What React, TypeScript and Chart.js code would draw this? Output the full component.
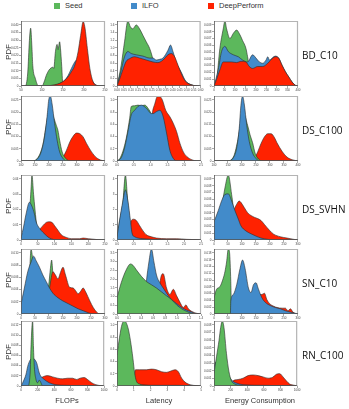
import React, { useEffect, useRef } from 'react';
import { Chart, registerables } from 'chart.js';
Chart.register(...registerables);

type P = [number, number][];

const SERIES_NAMES = ['Seed', 'ILFO', 'DeepPerform'];
const SERIES_COLORS = ['#5cb85c', '#428bca', '#ff2200'];
const ROW_NAMES = ['BD_C10', 'DS_C100', 'DS_SVHN', 'SN_C10', 'RN_C100'];
const COL_NAMES = ['FLOPs', 'Latency', 'Energy Consumption'];

// x / y values are in percent of each panel's axis range
const BD_FLOPS_SEED: P = [[0,0],[5,0],[8,20],[10,70],[11.5,89],[13,60],[14,32],[17,12],[21,0],[25,0],[28,8],[30,16],[33,24],[36,28],[38,29],[39,27],[41,53],[43,64],[44,56],[46,68],[47,58],[48.5,30],[50,0],[100,0]];
const BD_FLOPS_ILFO: P = [[0,0],[30,0],[40,1],[46,4],[52,9],[56,16],[60,27],[64,37],[68,42],[72,45],[76,40],[80,25],[84,10],[90,1],[95,0],[100,0]];
const BD_FLOPS_DP: P = [[0,0],[29,0],[40,2],[46,4],[54,11],[60,22],[64,32],[68,53],[71,78],[74,99],[76,91],[79,58],[82,27],[86,6],[90,1],[95,0],[100,0]];

const BD_LAT_SEED: P = [[0,0],[5,32],[9,68],[13,100],[16,91],[19,88],[23,94],[27,88],[31,78],[35,68],[39,58],[42,46],[45,30],[47,22],[55,20],[65,16],[75,10],[85,4],[95,0],[100,0]];
const BD_LAT_ILFO: P = [[0,0],[5,24],[9,45],[13,53],[17,50],[23,48],[31,46],[39,43],[43,43],[47,40],[51,41],[55,43],[61,55],[64,63],[67,53],[71,36],[77,21],[81,10],[85,4],[91,1],[97,0],[100,0]];
const BD_LAT_DP: P = [[0,0],[3,10],[7,25],[11,38],[15,42],[21,45],[27,43],[35,40],[43,37],[49,36],[55,40],[61,48],[65,50],[69,45],[73,32],[77,19],[81,9],[85,4],[91,1],[97,0],[100,0]];

const BD_EN_SEED: P = [[0,0],[3,8],[7,58],[11,88],[13,100],[15,88],[19,73],[23,81],[27,86],[30,81],[34,70],[38,58],[40,45],[42,30],[46,20],[55,15],[70,8],[85,3],[100,0]];
const BD_EN_ILFO: P = [[0,0],[5,25],[9,53],[13,61],[17,53],[23,48],[29,45],[34,40],[40,37],[46,48],[50,43],[54,37],[58,35],[62,40],[64,45],[66,40],[70,44],[73,46],[77,43],[81,32],[85,22],[89,14],[93,6],[97,1],[100,0]];
const BD_EN_DP: P = [[0,0],[3,10],[7,25],[11,37],[15,37],[21,37],[27,36],[32,38],[38,37],[42,30],[46,27],[52,30],[58,30],[64,35],[70,43],[73,45],[77,43],[81,32],[85,22],[89,14],[93,6],[97,1],[100,0]];

const DS100_FLOPS_SEED: P = [[0,0],[12,0],[20,5],[26,25],[30,55],[34,80],[38,70],[42,55],[44,47],[46,32],[49,14],[54,3],[58,0],[100,0]];
const DS100_FLOPS_ILFO: P = [[0,0],[14,0],[20,4],[24,14],[28,37],[31,68],[33,94],[35,100],[37,88],[40,58],[43,32],[46,14],[50,4],[54,0],[100,0]];
const DS100_FLOPS_DP: P = [[0,0],[46,0],[50,6],[54,16],[58,29],[62,38],[66,43],[70,42],[74,37],[78,27],[84,14],[90,5],[96,1],[100,0]];

const DS100_LAT_SEED: P = [[0,0],[3,3],[7,15],[11,35],[15,65],[17,84],[21,85],[25,86],[29,85],[33,86],[37,81],[41,71],[45,50],[50,30],[55,15],[60,5],[66,0],[100,0]];
const DS100_LAT_ILFO: P = [[0,0],[5,5],[9,20],[13,45],[17,71],[21,78],[25,84],[29,86],[35,81],[41,73],[43,73],[47,76],[51,78],[55,68],[59,43],[63,16],[67,4],[71,0],[100,0]];
const DS100_LAT_DP: P = [[0,0],[30,0],[38,20],[42,73],[45,88],[48,99],[51,99],[54,94],[58,78],[63,68],[67,58],[71,45],[75,27],[79,14],[83,7],[89,2],[95,0],[100,0]];

const DS100_EN_SEED: P = [[0,0],[15,0],[23,6],[28,30],[32,60],[36,70],[40,55],[43,40],[46,28],[49,12],[53,3],[58,0],[100,0]];
const DS100_EN_ILFO: P = [[0,0],[17,0],[23,5],[27,20],[30,50],[32,85],[34,100],[36,88],[39,55],[42,30],[46,12],[50,4],[54,0],[100,0]];
const DS100_EN_DP: P = [[0,0],[44,0],[48,4],[52,14],[56,27],[60,37],[64,42],[68,42],[72,36],[75,28],[81,15],[87,6],[93,2],[100,0]];

const DSS_FLOPS_SEED: P = [[0,0],[6,10],[10,40],[12,80],[13,100],[15,70],[18,30],[20,10],[24,2],[28,0],[100,0]];
const DSS_FLOPS_ILFO: P = [[0,3],[3,20],[6,40],[10,58],[13,52],[16,40],[18,28],[22,18],[26,12],[30,7],[34,3],[38,1],[44,0],[100,0]];
const DSS_FLOPS_DP: P = [[0,0],[16,0],[20,8],[22,15],[26,22],[30,27],[33,28],[37,27],[40,22],[44,15],[48,8],[54,4],[60,2],[70,2],[74,3],[80,2],[88,1],[96,0],[100,0]];

const DSS_LAT_SEED: P = [[0,3],[3,28],[7,58],[10,100],[13,55],[16,20],[19,5],[23,0],[100,0]];
const DSS_LAT_ILFO: P = [[0,5],[3,30],[7,60],[10,77],[13,60],[16,30],[18,10],[21,5],[25,3],[31,2],[43,1],[60,0],[100,0]];
const DSS_LAT_DP: P = [[0,0],[14,0],[17,30],[20,32],[23,30],[27,22],[31,14],[35,8],[41,5],[47,3],[59,2],[71,2],[83,1],[95,0.5],[100,0]];

const DSS_EN_SEED: P = [[0,0],[5,25],[9,50],[13,80],[17,100],[21,70],[24,40],[27,15],[30,3],[34,0],[100,0]];
const DSS_EN_ILFO: P = [[0,28],[5,45],[9,60],[13,70],[17,71],[21,60],[25,45],[29,32],[32,22],[38,14],[45,9],[50,6],[56,3],[64,1],[72,0],[100,0]];
const DSS_EN_DP: P = [[0,0],[13,0],[17,10],[21,35],[25,50],[27,55],[30,60],[32,58],[36,50],[40,42],[45,37],[48,35],[52,33],[56,30],[60,24],[66,15],[71,9],[79,5],[87,3],[95,1],[100,0]];

const SN_FLOPS_SEED: P = [[0,0],[6,0],[10,60],[12,100],[14,85],[17,70],[20,40],[24,28],[28,25],[33,45],[35,70],[36.5,83],[38,62],[40,50],[44,25],[50,5],[56,0],[100,0]];
const SN_FLOPS_ILFO: P = [[0,15],[4,40],[8,65],[12,80],[15,89],[18,82],[22,72],[26,60],[30,50],[34,40],[38,32],[44,25],[50,20],[56,16],[62,12],[68,8],[74,5],[80,2],[86,0],[100,0]];
const SN_FLOPS_DP: P = [[0,0],[26,0],[30,10],[34,40],[38,65],[41,60],[44,54],[47,64],[50,72],[53,60],[58,41],[62,40],[66,34],[68,31],[71,35],[74,40],[77,34],[82,20],[86,10],[90,3],[94,0],[100,0]];

const SN_LAT_SEED: P = [[0,25],[5,48],[11,68],[16,77],[19,75],[23,68],[29,58],[35,50],[41,45],[47,40],[53,34],[59,28],[65,22],[71,14],[77,8],[83,4],[89,1],[94,0],[100,0]];
const SN_LAT_ILFO: P = [[0,0],[31,0],[33,20],[35,50],[38,80],[41,100],[44,80],[47,60],[51,48],[55,40],[59,32],[63,25],[67,20],[71,16],[77,10],[83,6],[89,3],[95,0],[100,0]];
const SN_LAT_DP: P = [[0,0],[44,0],[50,40],[53,60],[55,62],[59,40],[63,30],[67,38],[71,28],[75,18],[79,10],[82,14],[85,8],[89,4],[95,1],[100,0]];

const SN_EN_SEED: P = [[0,25],[3,38],[7,42],[11,55],[13,65],[15,80],[17,100],[18.5,95],[20,50],[21,0],[100,0]];
const SN_EN_ILFO: P = [[0,0],[19.5,0],[20,20],[23,30],[27,45],[31,70],[34,83],[37,70],[41,40],[44,33],[47,45],[50,48],[53,38],[57,25],[61,18],[67,13],[73,10],[79,8],[85,5],[91,3],[97,1],[100,0]];
const SN_EN_DP: P = [[0,0],[40,0],[50,20],[54,30],[57,30],[60,32],[63,22],[67,15],[71,12],[75,10],[81,9],[85,9],[88,5],[91,8],[94,3],[99,0],[100,0]];

const RN_FLOPS_SEED: P = [[0,0],[8,0],[11,20],[12,60],[14,100],[15,60],[16,30],[18,10],[20,5],[22,9],[24,5],[26,0],[100,0]];
const RN_FLOPS_ILFO: P = [[0,0],[2,5],[6,18],[8,30],[11,40],[14,43],[17,40],[19,35],[22,20],[24,15],[28,10],[34,5],[42,2],[54,1],[74,0.5],[100,0]];
const RN_FLOPS_DP: P = [[0,0],[18,0],[22,8],[24,12],[28,15],[32,16],[38,14],[44,12],[50,11],[56,12],[62,12],[67,10],[71,12],[76,13],[80,10],[85,5],[90,2],[96,0.5],[100,0]];

const RN_LAT_SEED: P = [[0,48],[3,75],[6,95],[9,100],[13,90],[16,70],[19,42],[21,20],[23,8],[27,3],[35,1],[48,0],[100,0]];
const RN_LAT_ILFO: P = [[0,2],[10,3],[20,2.5],[30,1.5],[50,1],[70,1],[90,0.5],[100,0]];
const RN_LAT_DP: P = [[0,0],[17,0],[20,10],[22,25],[27,25],[35,25],[41,26],[47,25],[53,22],[59,21],[64,23],[69,25],[73,22],[77,12],[81,6],[87,2],[95,0.5],[100,0]];

const RN_EN_SEED: P = [[0,20],[3,45],[6,70],[8,90],[10,100],[12,90],[15,50],[18,22],[21,8],[25,3],[31,1],[40,0],[100,0]];
const RN_EN_ILFO: P = [[0,30],[3,38],[6,36],[10,32],[14,25],[18,15],[22,8],[26,5],[35,2],[60,1],[100,0]];
const RN_EN_DP: P = [[0,0],[19,0],[23,8],[29,10],[35,12],[41,16],[47,17],[53,16],[59,14],[65,12],[70,13],[75,18],[79,19],[83,14],[87,8],[91,3],[97,1],[100,0]];

// tick labels
const X_TICKS = [
  [['50','100','150','200','250'], ['0.00','0.05','0.10','0.15','0.20','0.25','0.30','0.35','0.40','0.45','0.50','0.55','0.60'], ['0','50','100','150','200','250','300','350','400']],
  [['100','150','200','250','300','350','400'], ['0.0','0.5','1.0','1.5','2.0','2.5'], ['100','150','200','250','300','350','400']],
  [['0','50','100','150','200','250'], ['0.0','0.5','1.0','1.5','2.0','2.5'], ['0','50','100','150','200','250','300']],
  [['0','50','100','150','200','250','300'], ['0.0','0.2','0.4','0.6','0.8','1.0','1.2','1.4'], ['0','50','100','150','200','250','300']],
  [['0','200','400','600','800','1000'], ['0','1','2','3','4','5'], ['0','200','400','600','800','1000']],
];
const Y_TICKS = [
  [['0','0.005','0.010','0.015','0.020','0.025','0.030','0.035','0.040'], ['0','0.2','0.4','0.6','0.8','1.0','1.2','1.4','1.6'], ['0','0.001','0.002','0.003','0.004','0.005','0.006','0.007','0.008','0.009']],
  [['0','0.005','0.010','0.015','0.020','0.025'], ['0','0.2','0.4','0.6','0.8','1.0'], ['0','0.005','0.010','0.015','0.020','0.025']],
  [['0','0.01','0.02','0.03','0.04'], ['0','1','2','3','4'], ['0','0.001','0.002','0.003','0.004','0.005','0.006','0.007','0.008','0.009']],
  [['0','0.002','0.004','0.006','0.008','0.010'], ['0','0.5','1.0','1.5','2.0','2.5','3.0','3.5'], ['0','0.002','0.004','0.006','0.008','0.010','0.012','0.014','0.016','0.018']],
  [['0','0.002','0.004','0.006','0.008','0.010','0.012'], ['0','0.2','0.4','0.6','0.8','1.0'], ['0','0.001','0.002','0.003','0.004','0.005','0.006','0.007','0.008']],
];

const PANEL_DATA: P[][][] = [
  [[BD_FLOPS_SEED, BD_FLOPS_ILFO, BD_FLOPS_DP], [BD_LAT_SEED, BD_LAT_ILFO, BD_LAT_DP], [BD_EN_SEED, BD_EN_ILFO, BD_EN_DP]],
  [[DS100_FLOPS_SEED, DS100_FLOPS_ILFO, DS100_FLOPS_DP], [DS100_LAT_SEED, DS100_LAT_ILFO, DS100_LAT_DP], [DS100_EN_SEED, DS100_EN_ILFO, DS100_EN_DP]],
  [[DSS_FLOPS_SEED, DSS_FLOPS_ILFO, DSS_FLOPS_DP], [DSS_LAT_SEED, DSS_LAT_ILFO, DSS_LAT_DP], [DSS_EN_SEED, DSS_EN_ILFO, DSS_EN_DP]],
  [[SN_FLOPS_SEED, SN_FLOPS_ILFO, SN_FLOPS_DP], [SN_LAT_SEED, SN_LAT_ILFO, SN_LAT_DP], [SN_EN_SEED, SN_EN_ILFO, SN_EN_DP]],
  [[RN_FLOPS_SEED, RN_FLOPS_ILFO, RN_FLOPS_DP], [RN_LAT_SEED, RN_LAT_ILFO, RN_LAT_DP], [RN_EN_SEED, RN_EN_ILFO, RN_EN_DP]],
];
// drawing order per panel (lower = drawn in front) for [Seed, ILFO, DeepPerform]
const ORDERS = [
  [[3,2,1],[3,2,1],[3,2,1]],
  [[2,1,3],[2,1,3],[2,1,3]],
  [[2,1,3],[2,1,3],[2,1,3]],
  [[3,1,2],[1,2,3],[2,1,3]],
  [[1,2,3],[1,2,3],[1,2,3]],
];

const COL_X = [21, 117, 214];
const ROW_Y = [21, 96, 175, 249, 321];
const PW = 84, PH = 65;
const PAD_L = 14, PAD_T = 3, PAD_R = 3, PAD_B = 8;
const CW = PW + PAD_L + PAD_R, CH = PH + PAD_T + PAD_B;

const framePlugin = {
  id: 'frame',
  afterDraw(chart: any) {
    const { ctx, chartArea: a } = chart;
    ctx.save();
    ctx.strokeStyle = '#b4b4b4';
    ctx.lineWidth = 1.2;
    ctx.beginPath();
    ctx.moveTo(a.left, a.top + 0.5);
    ctx.lineTo(a.right - 0.5, a.top + 0.5);
    ctx.lineTo(a.right - 0.5, a.bottom);
    ctx.stroke();
    ctx.strokeStyle = '#555';
    ctx.lineWidth = 0.8;
    ctx.beginPath();
    ctx.moveTo(a.left + 0.5, a.top);
    ctx.lineTo(a.left + 0.5, a.bottom - 0.5);
    ctx.lineTo(a.right, a.bottom - 0.5);
    ctx.stroke();
    ctx.restore();
  },
};

function Panel({ r, c }: { r: number; c: number }) {
  const ref = useRef<HTMLCanvasElement>(null);
  useEffect(() => {
    const xt = X_TICKS[r][c];
    const yt = Y_TICKS[r][c];
    const series = PANEL_DATA[r][c];
    const orders = ORDERS[r][c];
    const chart = new Chart(ref.current!, {
      type: 'line',
      data: {
        datasets: series.map((pts, i) => ({
          label: SERIES_NAMES[i],
          data: pts.map(([x, y]) => ({ x, y })),
          backgroundColor: SERIES_COLORS[i],
          borderColor: '#2b2b2b',
          borderWidth: 0.6,
          fill: 'origin',
          pointRadius: 0,
          cubicInterpolationMode: 'monotone',
          order: orders[i],
        })),
      },
      options: {
        animation: false,
        responsive: false,
        devicePixelRatio: 1,
        events: [],
        layout: { padding: { left: 0, top: PAD_T, right: PAD_R, bottom: 0 } },
        plugins: { legend: { display: false }, tooltip: { enabled: false } },
        scales: {
          x: {
            type: 'linear', min: 0, max: 100,
            afterBuildTicks: (s: any) => { s.ticks = xt.map((_, i) => ({ value: (i * 100) / (xt.length - 1) })); },
            afterFit: (s: any) => { s.height = PAD_B; },
            ticks: { callback: (_v: any, i: number) => xt[i], font: { size: 3, family: 'Liberation Sans' }, color: '#444', padding: 0.5, maxRotation: 0, autoSkip: false },
            grid: { drawOnChartArea: false, tickLength: 2, color: '#555', lineWidth: 0.5 },
            border: { display: false },
          },
          y: {
            type: 'linear', min: 0, max: 100,
            afterBuildTicks: (s: any) => { s.ticks = yt.map((_, i) => ({ value: (i * 94) / (yt.length - 1) })); },
            afterFit: (s: any) => { s.width = PAD_L; },
            ticks: { callback: (_v: any, i: number) => yt[i], font: { size: 3, family: 'Liberation Sans' }, color: '#444', padding: 0.5, autoSkip: false },
            grid: { drawOnChartArea: false, tickLength: 2, color: '#555', lineWidth: 0.5 },
            border: { display: false },
          },
        },
      },
      plugins: [framePlugin],
    } as any);
    return () => chart.destroy();
  }, [r, c]);
  return (
    <canvas
      ref={ref}
      width={CW}
      height={CH}
      style={{ position: 'absolute', left: COL_X[c] - PAD_L, top: ROW_Y[r] - PAD_T, width: CW, height: CH }}
    />
  );
}

const LEGEND_X = [54, 131, 208];

export default function App() {
  const panels: JSX.Element[] = [];
  for (let r = 0; r < 5; r++) for (let c = 0; c < 3; c++) panels.push(<Panel key={`${r}-${c}`} r={r} c={c} />);
  const sans = '"Liberation Sans", Arial, sans-serif';
  return (
    <div style={{ position: 'fixed', left: 0, top: 0, width: 349, height: 409, background: '#fff', overflow: 'hidden' }}>
      {SERIES_NAMES.map((n, i) => (
        <div key={n} style={{ position: 'absolute', left: LEGEND_X[i], top: 0, height: 11, display: 'flex', alignItems: 'center' }}>
          <div style={{ width: 6, height: 6, background: SERIES_COLORS[i], marginRight: 5 }} />
          <span style={{ font: `7.5px ${sans}`, color: '#333' }}>{n}</span>
        </div>
      ))}
      {panels}
      {ROW_NAMES.map((n, r) => (
        <React.Fragment key={n}>
          <div style={{ position: 'absolute', left: 302, top: ROW_Y[r] + PH / 2 - 6, font: '10px "Open Sans", sans-serif', color: '#111', whiteSpace: 'nowrap' }}>{n}</div>
          <div style={{ position: 'absolute', left: 8, top: ROW_Y[r] + PH / 2 - 2, width: 0, height: 0 }}>
            <div style={{ position: 'absolute', left: 0, top: 0, transform: 'translate(-50%, -50%) rotate(-90deg)', font: `8px ${sans}`, color: '#333', whiteSpace: 'nowrap' }}>PDF</div>
          </div>
        </React.Fragment>
      ))}
      {COL_NAMES.map((n, c) => (
        <div key={n} style={{ position: 'absolute', left: COL_X[c] + PW / 2 + (c === 0 ? 4 : c === 2 ? 4 : 0), top: 396, transform: 'translateX(-50%)', font: `7.5px ${sans}`, color: '#333', whiteSpace: 'nowrap' }}>{n}</div>
      ))}
    </div>
  );
}
